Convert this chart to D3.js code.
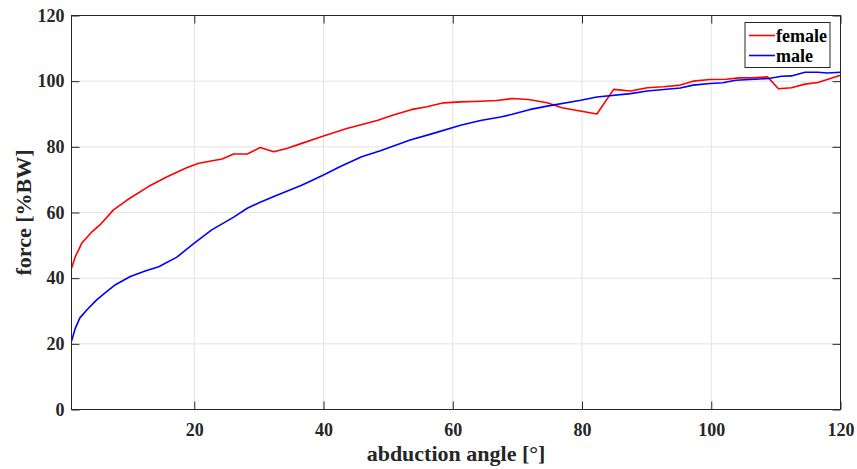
<!DOCTYPE html>
<html>
<head>
<meta charset="utf-8">
<script src="https://cdn.jsdelivr.net/npm/d3@7"></script>
<style>
  body { margin: 0; background: #fff; }
  svg { display: block; }
  text { font-family: "Liberation Serif", "Times New Roman", serif; font-weight: bold; }
  .axis path { display: none; }
  .axis line { stroke: #262626; }
  .axis text { fill: #262626; font-size: 18px; }
  .grid line { stroke: #e3e3e3; stroke-width: 1; }
</style>
</head>
<body>
<svg width="857" height="469"></svg>
<script>
// data
let femaleAngle = [1, 1.6, 2.6, 4.2, 5.4, 7.5, 9.6, 12.9, 15.8, 18.9, 20.7, 24.3, 26.1, 28.2, 30.2, 32.3, 34.3, 36.4, 40, 43.6, 48.3, 50.8, 53.7, 56, 58.6, 61.2, 64.3, 66.8, 69.2, 71.7, 74.6, 76.9, 82.3, 84.9, 87.5, 90.1, 92.6, 95.2, 97.2, 99.8, 102.3, 104.3, 106.3, 108.7, 110.4, 112.4, 114.5, 116.5, 120];
let femaleForce = [43, 46.6, 50.7, 54.2, 56.2, 60.8, 63.8, 67.9, 70.9, 73.7, 75.0, 76.3, 77.8, 77.8, 79.8, 78.5, 79.5, 80.9, 83.3, 85.6, 88.0, 89.7, 91.4, 92.2, 93.4, 93.7, 93.9, 94.1, 94.7, 94.4, 93.4, 91.9, 90.0, 97.5, 97.0, 98.0, 98.3, 98.8, 100.0, 100.5, 100.6, 101.0, 101.0, 101.3, 97.7, 98.0, 99.1, 99.6, 101.8];

let maleAngle = [1, 1.6, 2.3, 3.4, 4.9, 6.2, 7.8, 10.1, 12.4, 14.5, 17.3, 19.9, 22.7, 26.1, 28.2, 30.2, 32.5, 36.7, 40, 42.6, 45.9, 48.8, 53.4, 57, 61.2, 64.3, 67.4, 69.2, 72, 74.6, 79.8, 82.3, 87.5, 90.1, 95.2, 97.2, 99.8, 101.8, 103.8, 108.9, 110.9, 112.4, 114.5, 116.5, 118, 120];
let maleForce = [20.8, 24.8, 27.9, 30.4, 33.4, 35.5, 38.0, 40.5, 42.2, 43.5, 46.4, 50.5, 54.7, 58.6, 61.3, 63.1, 65.0, 68.4, 71.4, 74.0, 77.0, 78.8, 82.1, 84.1, 86.6, 88.0, 89.1, 89.9, 91.4, 92.4, 94.2, 95.2, 96.2, 97.0, 97.9, 98.8, 99.3, 99.5, 100.3, 100.8, 101.5, 101.6, 102.7, 102.7, 102.5, 102.7];

let xTicks = [20, 40, 60, 80, 100, 120];
let yTicks = [0, 20, 40, 60, 80, 100, 120];

let seriesNames = ['female', 'male'];
let seriesColors = ['#ff0000', '#0000ff'];

let serif = '"Liberation Serif", "Times New Roman", serif';

let margin = {left: 71.5, right: 16.5, top: 15.5, bottom: 59.5};
let svg = d3.select('svg');
let W = +svg.attr('width'), H = +svg.attr('height');
let w = W - margin.left - margin.right;
let h = H - margin.top - margin.bottom;

let x = d3.scaleLinear().domain([1, 120]).range([0, w]);
let y = d3.scaleLinear().domain([0, 120]).range([h, 0]);

let g = svg.append('g').attr('transform', `translate(${margin.left},${margin.top})`);

// grid
g.append('g').attr('class', 'grid').selectAll('line').data(xTicks).join('line')
  .attr('x1', d => x(d)).attr('x2', d => x(d)).attr('y1', 0).attr('y2', h);
g.append('g').attr('class', 'grid').selectAll('line').data(yTicks).join('line')
  .attr('x1', 0).attr('x2', w).attr('y1', d => y(d)).attr('y2', d => y(d));

// curves
g.append('clipPath').attr('id', 'clip').append('rect').attr('width', w).attr('height', h);
let line = d3.line().x(d => x(d[0])).y(d => y(d[1]));
let series = [d3.zip(femaleAngle, femaleForce), d3.zip(maleAngle, maleForce)];
g.append('g').attr('clip-path', 'url(#clip)').selectAll('path').data(series).join('path')
  .attr('d', line)
  .attr('fill', 'none')
  .attr('stroke', (d, i) => seriesColors[i])
  .attr('stroke-width', 1.6)
  .attr('stroke-linejoin', 'round');

// axes, MATLAB-style inward ticks on all four sides
g.append('g').attr('class', 'axis').attr('transform', `translate(0,${h})`)
  .call(d3.axisBottom(x).tickValues(xTicks).tickSize(-8).tickPadding(14))
  .attr('font-family', serif).attr('font-size', 18);
g.append('g').attr('class', 'axis')
  .call(d3.axisTop(x).tickValues(xTicks).tickSize(-8).tickFormat(''));
g.append('g').attr('class', 'axis')
  .call(d3.axisLeft(y).tickValues(yTicks).tickSize(-8).tickPadding(7))
  .attr('font-family', serif).attr('font-size', 18);
g.append('g').attr('class', 'axis').attr('transform', `translate(${w},0)`)
  .call(d3.axisRight(y).tickValues(yTicks).tickSize(-8).tickFormat(''));

g.append('rect').attr('width', w).attr('height', h)
  .attr('fill', 'none').attr('stroke', '#262626').attr('stroke-width', 1);

// axis titles
svg.append('text')
  .attr('x', margin.left + w / 2).attr('y', 461)
  .attr('text-anchor', 'middle')
  .attr('font-size', 22).attr('fill', '#262626')
  .text('abduction angle [°]');
svg.append('text')
  .attr('transform', `translate(31,${margin.top + h / 2}) rotate(-90)`)
  .attr('text-anchor', 'middle')
  .attr('font-size', 22).attr('fill', '#262626')
  .text('force [%BW]');

// legend
let lg = svg.append('g').attr('transform', 'translate(745,22.5)');
lg.append('rect').attr('width', 85).attr('height', 45)
  .attr('fill', '#fff').attr('stroke', '#262626').attr('stroke-width', 1);
let items = lg.selectAll('g.item').data(seriesNames).join('g')
  .attr('class', 'item')
  .attr('transform', (d, i) => `translate(0,${13 + i * 20})`);
items.append('line').attr('x1', 4).attr('x2', 30)
  .attr('stroke', (d, i) => seriesColors[i]).attr('stroke-width', 1.6);
items.append('text').attr('x', 31).attr('y', 6)
  .attr('font-size', 18).attr('fill', '#000')
  .text(d => d);
</script>
</body>
</html>
